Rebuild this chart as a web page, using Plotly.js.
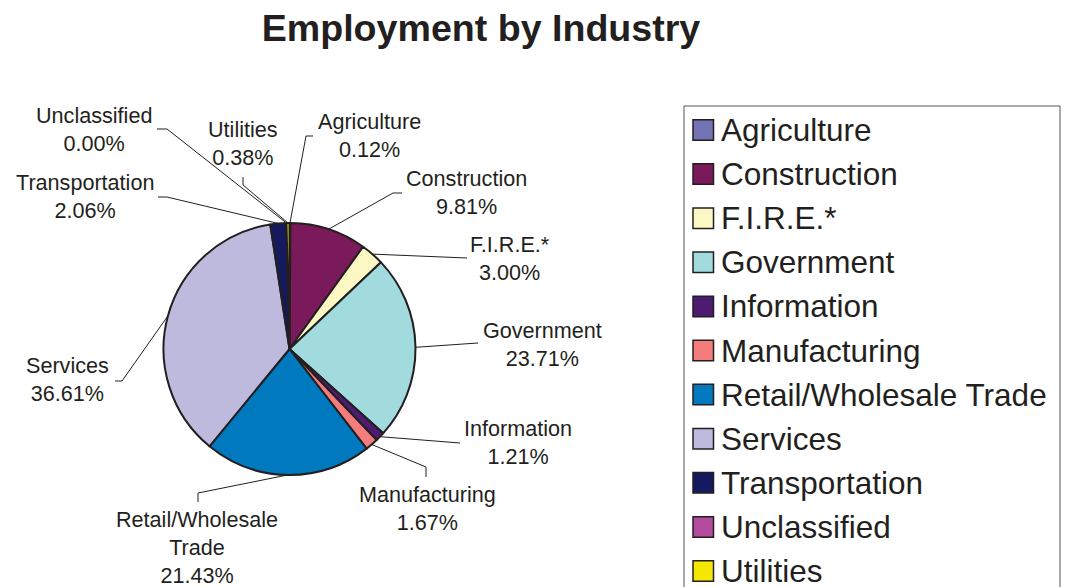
<!DOCTYPE html>
<html><head><meta charset="utf-8">
<script src="https://cdn.plot.ly/plotly-3.0.1.min.js"></script>
<style>html,body{margin:0;padding:0;background:#fff}#chart{width:1068px;height:587px}</style>
</head><body><div id="chart"></div>
<script>
// ---- data ----
const categories = ["Agriculture", "Construction", "F.I.R.E.*", "Government", "Information",
  "Manufacturing", "Retail/Wholesale Trade", "Services", "Transportation", "Unclassified", "Utilities"];
const pieLabels = ["Agriculture", "Construction", "F.I.R.E.*", "Government", "Information",
  "Manufacturing", "Retail/Wholesale<br>Trade", "Services", "Transportation", "Unclassified", "Utilities"];
const shares = [0.12, 9.81, 3.00, 23.71, 1.21, 1.67, 21.43, 36.61, 2.06, 0.00, 0.38];
const sliceColors = ["#7373b5", "#7a1a5b", "#fbf8c4", "#a2dbdd", "#4d1b70", "#f47c7c",
  "#0079bf", "#bebadd", "#151a5e", "#b34a9b", "#f5e800"];
const chartTitle = "Employment by Industry";

// ---- layout config (pixels) ----
const W = 1068, H = 587;
const CX = 289.5, CY = 349, R = 126;
const textColor = "#231f20";
const labelPos = [[369.5,136],[466.5,192.5],[510,258.5],[542,344.5],[518,442.5],[427,508],
  [197,547],[67.5,379.5],[84.5,196.5],[93.5,129.5],[242.5,143.8]];
const leaderBends = [[[306,136],[313,136]], [[393,193],[402,193]], [[467,258]], [[478,343]],
  [[460,443]], [[426,467],[426,477]], [[198,493],[198,502]], [[122,381],[115,381]],
  [[167,197],[158,197]], [[167,129],[157,129]], [[243,185],[243,177]]];
const legendBox = {x0: 684, y0: 106, x1: 1060, y1: 620};
const legendFirstY = 130, legendStep = 44.1, swatchX = 693, swatchSize = 20.5, legendTextX = 720;

const px = x => x / W;
const py = y => 1 - y / H;

const shapes = [];
const annotations = [];

// leader lines from slice mid-angles
const total = shares.reduce((a, b) => a + b, 0);
let cum = 0;
shares.forEach((v, i) => {
  const th = (cum + v / 2) / total * 2 * Math.PI;
  cum += v;
  const sx = CX + R * Math.sin(th), sy = CY - R * Math.cos(th);
  let path = `M ${px(sx)},${py(sy)}`;
  leaderBends[i].forEach(p => { path += ` L ${px(p[0])},${py(p[1])}`; });
  shapes.push({type: "path", xref: "paper", yref: "paper", path: path,
    line: {color: textColor, width: 1}, layer: "above"});
  annotations.push({xref: "paper", yref: "paper", x: px(labelPos[i][0]), y: py(labelPos[i][1]),
    xanchor: "center", yanchor: "middle", showarrow: false, align: "center", borderpad: 0,
    text: pieLabels[i] + "<br>" + v.toFixed(2) + "%",
    font: {family: "Liberation Sans, Arial, sans-serif", size: 21.6, color: textColor}});
});

// legend
shapes.push({type: "rect", xref: "paper", yref: "paper",
  x0: px(legendBox.x0), x1: px(legendBox.x1), y0: py(legendBox.y0), y1: py(legendBox.y1),
  line: {color: "#555555", width: 1}, fillcolor: "rgba(0,0,0,0)"});
categories.forEach((c, i) => {
  const yc = legendFirstY + i * legendStep;
  shapes.push({type: "rect", xref: "paper", yref: "paper",
    x0: px(swatchX), x1: px(swatchX + swatchSize), y0: py(yc - swatchSize / 2), y1: py(yc + swatchSize / 2),
    line: {color: textColor, width: 1.5}, fillcolor: sliceColors[i]});
  annotations.push({xref: "paper", yref: "paper", x: px(legendTextX), y: py(yc),
    xanchor: "left", yanchor: "middle", showarrow: false, text: c, borderpad: 0,
    font: {family: "Liberation Sans, Arial, sans-serif", size: 31.5, color: textColor}});
});

const trace = {
  type: "pie", values: shares, labels: categories, sort: false, direction: "clockwise", rotation: 0,
  marker: {colors: sliceColors, line: {color: textColor, width: 2}},
  textinfo: "none", hoverinfo: "none", showlegend: false,
  domain: {x: [px(CX - R), px(CX + R)], y: [py(CY + R), py(CY - R)]}
};

const layout = {
  width: W, height: H, margin: {l: 0, r: 0, t: 0, b: 0},
  paper_bgcolor: "#ffffff", plot_bgcolor: "#ffffff", showlegend: false,
  title: {text: "<b>" + chartTitle + "</b>", x: px(481), xanchor: "center", y: py(28), yanchor: "middle",
    font: {family: "Liberation Sans, Arial, sans-serif", size: 37.6, color: textColor}},
  shapes: shapes, annotations: annotations
};

Plotly.newPlot("chart", [trace], layout, {staticPlot: true, displayModeBar: false});
</script></body></html>
